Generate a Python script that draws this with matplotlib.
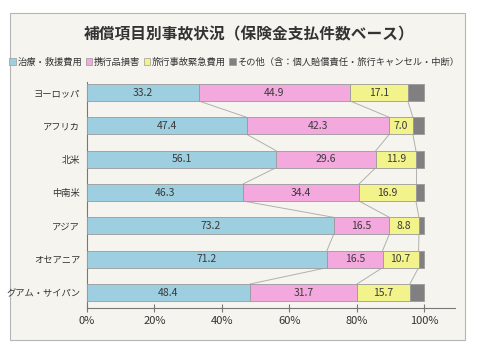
import matplotlib
matplotlib.use("Agg")
import matplotlib.pyplot as plt
import numpy as np
from matplotlib.patches import Rectangle, Patch

plt.rcParams['font.family'] = ['Noto Sans CJK JP', 'DejaVu Sans']

regions = ["ヨーロッパ", "アフリカ", "北米", "中南米", "アジア", "オセアニア", "グアム・サイパン"]
series_names = ["治療・救援費用", "携行品損害", "旅行事故緊急費用",
                "その他（含：個人賠償責任・旅行キャンセル・中断）"]
medical = [33.2, 47.4, 56.1, 46.3, 73.2, 71.2, 48.4]
baggage = [44.9, 42.3, 29.6, 34.4, 16.5, 16.5, 31.7]
emergency = [17.1, 7.0, 11.9, 16.9, 8.8, 10.7, 15.7]
other = [4.8, 3.3, 2.4, 2.4, 1.5, 1.6, 4.2]
xticks = [0, 20, 40, 60, 80, 100]

colors = ["#9dcfe1", "#f4a9de", "#f3f38c", "#808080"]
edge = "#9a9a9a"
bg = "#f6f4ee"

fig = plt.figure(figsize=(4.78, 3.5), dpi=100)
fig.patch.set_facecolor("white")
fig.patches.append(Rectangle((10 / 478, 1 - 340 / 350), 455 / 478, 327 / 350,
                             transform=fig.transFigure, facecolor=bg,
                             edgecolor="#b5b5b5", lw=0.8, zorder=-1))

ax = fig.add_axes([87 / 478, 1 - 308 / 350, 368 / 478, 226 / 350])
ax.set_facecolor("none")
ax.set_zorder(2)

data = np.array([medical, baggage, emergency, other])
y = np.arange(len(regions))
h = 0.51
left = np.zeros(len(regions))
for k in range(4):
    ax.barh(y, data[k], left=left, height=h, color=colors[k],
            edgecolor=edge, linewidth=0.6, zorder=3)
    if k < 3:
        for i in range(len(regions)):
            ax.text(left[i] + data[k][i] / 2, y[i], f"{data[k][i]:.1f}",
                    ha="center", va="center", fontsize=7.5, color="#3a3a3a",
                    zorder=4)
    left = left + data[k]

# series lines between bars
cum = np.cumsum(data, axis=0)
for k in range(3):
    for i in range(len(regions) - 1):
        ax.plot([cum[k][i], cum[k][i + 1]], [y[i] + h / 2, y[i + 1] - h / 2],
                color="#b0b0b0", lw=0.7, zorder=2)

ax.set_xlim(0, 109.2)
ax.set_ylim(6.465, -0.315)
ax.set_xticks(xticks)
ax.set_xticklabels([f"{t}%" for t in xticks], fontsize=8, color="#333333")
ax.set_yticks(y)
ax.set_yticklabels(regions, fontsize=6.7, color="#333333")
ax.tick_params(axis="y", length=0, pad=5)
ax.tick_params(axis="x", direction="inout", length=6, color="#777777", pad=3)
for s in ["top", "right"]:
    ax.spines[s].set_visible(False)
for s in ["left", "bottom"]:
    ax.spines[s].set_color("#777777")
    ax.spines[s].set_linewidth(0.8)

fig.text(0.522, 1 - 34 / 350, "補償項目別事故状況（保険金支払件数ベース）",
         ha="center", va="center", fontsize=11.3, fontweight="bold", color="#333333")

handles = [Patch(facecolor=colors[k], edgecolor=edge, lw=0.5) for k in range(4)]
fig.legend(handles, series_names, loc="center", bbox_to_anchor=(0.49, 1 - 62 / 350),
           ncol=4, frameon=False, fontsize=6.7, handlelength=0.7, handleheight=0.7,
           handletextpad=0.15, columnspacing=0.4, borderpad=0,
           labelcolor="#333333")

fig.savefig("out.png", dpi=100)
